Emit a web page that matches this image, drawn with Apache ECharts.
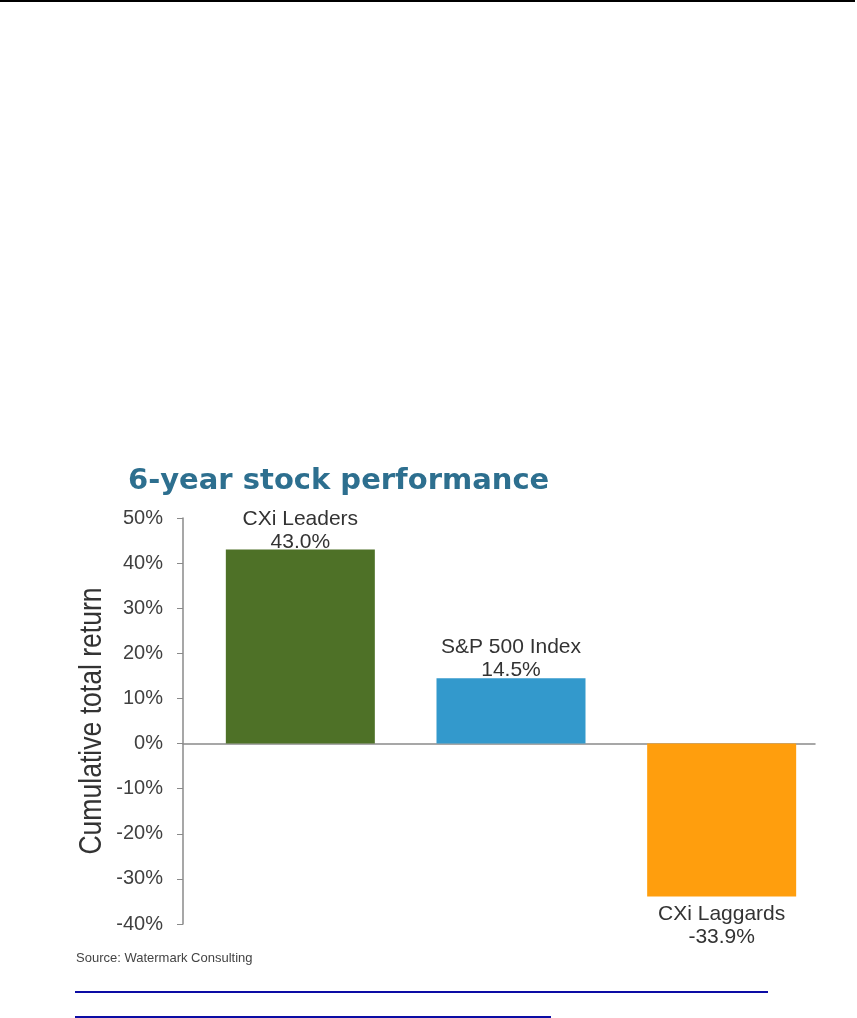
<!DOCTYPE html>
<html>
<head>
<meta charset="utf-8">
<title>6-year stock performance</title>
<script src="https://cdn.jsdelivr.net/npm/echarts@6/dist/echarts.min.js"></script>
<style>
  html, body { margin: 0; padding: 0; background: #fff; }
  #chart { position: absolute; left: 0; top: 0; width: 857px; height: 1018px; }
  .rule { position: absolute; }
</style>
</head>
<body>
<div id="chart"></div>
<!-- page decorations: top border and two link underlines -->
<div class="rule" style="left:0;top:0;width:855px;height:2px;background:#000"></div>
<div class="rule" style="left:75px;top:991px;width:693px;height:2px;background:#0c0ca4"></div>
<div class="rule" style="left:75px;top:1016px;width:476px;height:2px;background:#0c0ca4"></div>
<script>
// data
var categories = ['CXi Leaders', 'S&P 500 Index', 'CXi Laggards']
var returns = [43.0, 14.5, -33.9]
var barColors = ['#4e7127', '#3399cc', '#ff9e0d']
var yTicks = [-40, -30, -20, -10, 0, 10, 20, 30, 40, 50]

var labelFont = 'Liberation Sans, Arial, sans-serif'

var barData = returns.map(function (v, i) {
    return {
        value: v,
        itemStyle: { color: barColors[i] },
        label: {
            position: v >= 0 ? 'top' : 'bottom',
            distance: v >= 0 ? -4 : 6
        }
    }
})

var myChart = echarts.init(document.getElementById('chart'), null, { renderer: 'canvas' })

var option = {
    animation: false,
    backgroundColor: '#fff',
    title: [{
        text: '6-year stock performance',
        left: 123,
        top: 462,
        textStyle: { fontFamily: 'DejaVu Sans, sans-serif', fontWeight: 'bold', fontSize: 29, color: '#2d6f8f' }
    }, {
        text: 'Source: Watermark Consulting',
        left: 71,
        top: 947,
        textStyle: { fontFamily: labelFont, fontWeight: 'normal', fontSize: 13, color: '#444' }
    }],
    // y axis title, drawn condensed like the original
    graphic: [{
        type: 'text',
        x: 92,
        y: 721,
        rotation: Math.PI / 2,
        scaleX: 0.83,
        style: {
            text: 'Cumulative total return',
            font: '32px Liberation Sans, Arial, sans-serif',
            fill: '#333',
            align: 'center',
            verticalAlign: 'middle'
        }
    }],
    grid: [
        // axis frame
        { left: 183, right: 42, top: 518, bottom: 94 },
        // bars sit a little right of the frame centres
        { left: 195, right: 30, top: 518, bottom: 94 }
    ],
    xAxis: [{
        gridIndex: 0,
        type: 'category',
        data: categories,
        axisLine: { onZero: true, lineStyle: { color: '#8a8a8a', width: 1.5 } },
        axisTick: { show: false },
        axisLabel: { show: false }
    }, {
        gridIndex: 1,
        type: 'category',
        data: categories,
        axisLine: { show: false },
        axisTick: { show: false },
        axisLabel: { show: false }
    }],
    yAxis: [{
        gridIndex: 0,
        type: 'value',
        min: yTicks[0],
        max: yTicks[yTicks.length - 1],
        interval: 10,
        axisLine: { show: true, lineStyle: { color: '#8a8a8a', width: 1.5 } },
        axisTick: { show: true, inside: false, length: 6, lineStyle: { color: '#8a8a8a' } },
        axisLabel: { formatter: '{value}%', fontFamily: labelFont, fontSize: 20, color: '#404040', margin: 20 },
        splitLine: { show: false }
    }, {
        gridIndex: 1,
        type: 'value',
        min: yTicks[0],
        max: yTicks[yTicks.length - 1],
        interval: 10,
        show: false,
        splitLine: { show: false }
    }],
    series: [{
        name: 'Cumulative total return',
        type: 'bar',
        xAxisIndex: 1,
        yAxisIndex: 1,
        barWidth: 149,
        data: barData,
        label: {
            show: true,
            fontFamily: labelFont,
            fontSize: 21,
            lineHeight: 23,
            color: '#333',
            formatter: function (p) {
                return p.name + '\n' + p.value.toFixed(1) + '%'
            }
        }
    }]
}

myChart.setOption(option, true)
</script>
</body>
</html>
